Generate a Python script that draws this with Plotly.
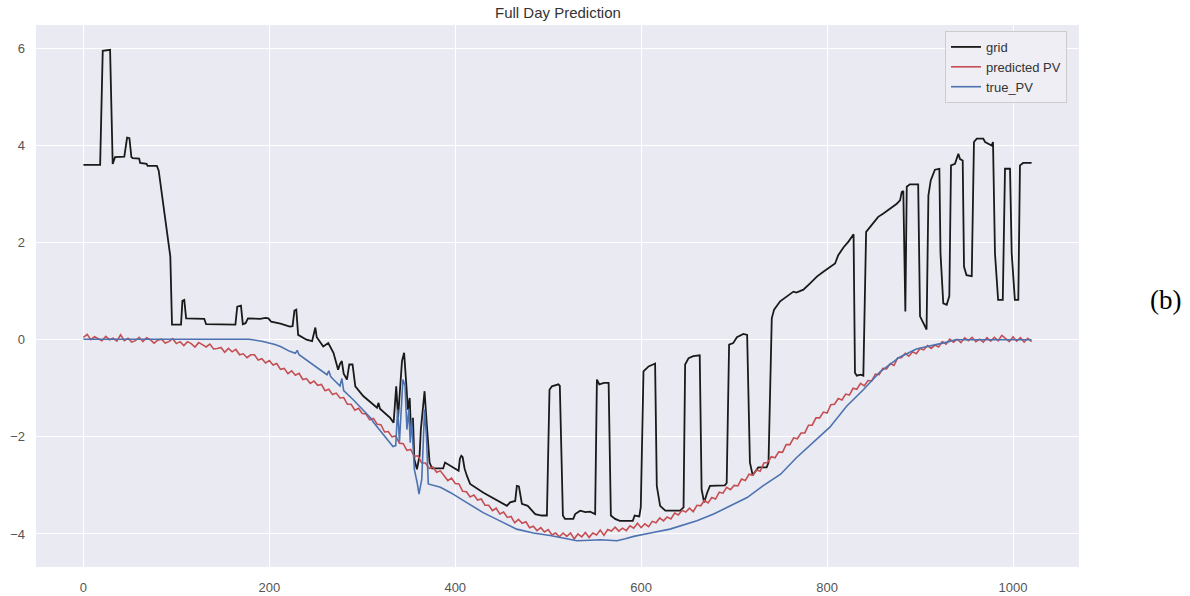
import plotly.graph_objects as go

# ---- grid power (breakpoints of the step-like trace) ----
grid_x = [0, 18, 20.8, 28.7, 31.5, 34, 44, 46, 47, 49.5, 51.6, 53, 60, 61, 68, 69, 79, 81, 88, 93.5,
          95.3, 105, 106.5, 108.5, 110.5, 130, 132, 163.5, 165.5, 169.5, 171.5, 174.5, 177, 190, 196,
          199, 202, 212, 222, 225, 227, 229, 231, 240, 246, 248.5, 249.5, 251, 253, 258, 263.4, 269,
          274, 276, 278, 280, 283.5, 286, 289.5, 292.5, 301, 315.8, 317.5, 319, 330, 333.7, 336.5,
          338.5, 342.7, 345, 347.5, 349, 351, 352.3, 354.5, 356, 358.8, 361.6, 363, 367, 369.5, 372.4,
          375, 387, 389, 403.6, 405, 406.5, 408, 410, 412.5, 416, 430.4, 448, 455.6, 459, 464.5, 466.3,
          468.5, 471.7, 478, 486, 493, 498.6, 501.4, 504, 511, 512.5, 515.8, 518, 527, 529, 534.4, 540,
          545, 550.5, 552.4, 555, 560, 565, 567.4, 572, 577, 591, 593, 598, 599.6, 602.5, 608, 615,
          616.8, 620.4, 626, 642, 645.6, 647.3, 651, 656, 663, 665, 667.7, 671, 674, 690, 692, 694.6,
          699, 703, 710, 714, 717, 720, 726, 735, 737, 740.5, 743, 749.5, 756.6, 763.8, 767, 774.5,
          781.7, 789, 796, 803, 808.6, 812, 817.6, 823, 827.6, 828.5, 830, 832, 836, 839, 842, 846, 855,
          860.6, 867.7, 875, 878.5, 880.3, 882, 884.2, 885.7, 889, 898, 900, 903.6, 907, 909, 911.5,
          916, 920.8, 922, 925, 928.7, 931.5, 933.3, 937.6, 941.2, 943, 945.9, 947.3, 950, 955.6, 958,
          961, 968, 970, 977, 978.5, 980.6, 984, 989, 991.4, 996.8, 998.6, 1002, 1005.7, 1007.5, 1011,
          1020]
grid_y = [3.60, 3.60, 5.95, 5.97, 3.62, 3.76, 3.77, 4.10, 4.16, 4.15, 3.76, 3.74, 3.73, 3.64, 3.62,
          3.58, 3.58, 3.48, 2.53, 1.71, 0.31, 0.31, 0.80, 0.82, 0.44, 0.43, 0.32, 0.31, 0.68, 0.70,
          0.32, 0.34, 0.44, 0.43, 0.45, 0.44, 0.37, 0.33, 0.27, 0.28, 0.60, 0.62, 0.10, 0.00, -0.03,
          0.20, 0.25, 0.05, 0.00, -0.14, -0.07, -0.27, -0.62, -0.50, -0.44, -0.70, -0.82, -0.51, -0.51,
          -0.96, -1.16, -1.40, -1.30, -1.42, -1.61, -1.71, -0.96, -1.60, -0.44, -0.27, -0.96, -1.44,
          -1.20, -1.85, -1.61, -2.46, -2.67, -2.39, -1.85, -1.06, -1.78, -2.53, -2.65, -2.65, -2.53,
          -2.70, -2.45, -2.39, -2.42, -2.65, -2.80, -2.97, -3.15, -3.35, -3.42, -3.35, -3.32, -3.01,
          -3.02, -3.38, -3.42, -3.59, -3.62, -3.62, -1.03, -0.96, -0.92, -0.95, -3.62, -3.69, -3.69,
          -3.59, -3.52, -3.55, -3.54, -3.59, -0.82, -0.92, -0.89, -0.89, -3.62, -3.69, -3.73, -3.73,
          -3.62, -3.64, -3.45, -0.65, -0.55, -0.49, -3.01, -3.42, -3.52, -3.52, -3.45, -0.51, -0.38,
          -0.34, -0.32, -3.08, -3.35, -3.15, -3.01, -3.00, -2.95, -0.10, -0.07, 0.05, 0.12, 0.10,
          -2.53, -2.79, -2.63, -2.63, -2.53, 0.44, 0.62, 0.79, 0.89, 0.99, 0.97, 1.03, 1.16, 1.30,
          1.40, 1.50, 1.57, 1.74, 1.90, 2.02, 2.14, 2.17, -0.68, -0.74, -0.72, -0.74, 2.22, 2.32, 2.53,
          2.60, 2.70, 2.80, 2.87, 3.04, 3.06, 0.58, 3.15, 3.20, 3.20, 0.48, 0.34, 0.21, 2.97, 3.28,
          3.50, 3.52, 1.78, 0.75, 0.72, 0.90, 3.59, 3.62, 3.83, 3.72, 3.69, 1.50, 1.33, 1.31, 4.07,
          4.14, 4.14, 4.07, 4.00, 4.07, 1.78, 0.82, 0.82, 3.52, 3.52, 1.78, 0.82, 0.82, 3.59, 3.64,
          3.64]

# ---- predicted PV (sampled every 4 steps) ----
pred_x = list(range(0, 1021, 4))
pred_y = [0.05, 0.11, 0.00, 0.06, 0.02, -0.02, 0.07, 0.00, 0.03, -0.03,
          0.10, -0.02, 0.03, -0.05, -0.02, 0.05, -0.04, 0.04, 0.00, -0.07,
          -0.01, 0.01, -0.07, -0.04, 0.02, -0.08, -0.04, -0.12, -0.04, -0.08,
          -0.15, -0.06, -0.10, -0.15, -0.09, -0.19, -0.18, -0.16, -0.26, -0.18,
          -0.25, -0.20, -0.31, -0.29, -0.37, -0.31, -0.31, -0.42, -0.39, -0.48,
          -0.43, -0.52, -0.49, -0.61, -0.59, -0.70, -0.64, -0.73, -0.69, -0.82,
          -0.80, -0.90, -0.85, -0.94, -0.92, -1.05, -1.02, -1.13, -1.10, -1.20,
          -1.19, -1.33, -1.33, -1.45, -1.41, -1.52, -1.53, -1.65, -1.62, -1.74,
          -1.75, -1.90, -1.89, -2.00, -1.98, -2.13, -2.14, -2.28, -2.26, -2.40,
          -2.39, -2.54, -2.54, -2.65, -2.62, -2.73, -2.70, -2.81, -2.90, -2.85,
          -2.96, -2.97, -3.12, -3.13, -3.24, -3.20, -3.30, -3.28, -3.41, -3.41,
          -3.52, -3.47, -3.59, -3.55, -3.66, -3.64, -3.77, -3.70, -3.78, -3.75,
          -3.87, -3.84, -3.93, -3.87, -3.96, -3.91, -4.02, -3.98, -4.06, -3.98,
          -4.05, -3.98, -4.10, -4.00, -4.06, -3.97, -4.07, -3.98, -4.02, -3.92,
          -4.03, -3.91, -3.94, -3.86, -3.94, -3.88, -3.93, -3.83, -3.88, -3.78,
          -3.87, -3.79, -3.85, -3.74, -3.77, -3.67, -3.73, -3.65, -3.69, -3.57,
          -3.61, -3.51, -3.55, -3.47, -3.54, -3.41, -3.42, -3.31, -3.36, -3.25,
          -3.28, -3.14, -3.16, -3.04, -3.09, -3.00, -3.01, -2.87, -2.90, -2.77,
          -2.79, -2.68, -2.71, -2.54, -2.53, -2.41, -2.43, -2.31, -2.32, -2.16,
          -2.16, -2.02, -2.04, -1.92, -1.92, -1.76, -1.76, -1.61, -1.61, -1.49,
          -1.51, -1.34, -1.33, -1.21, -1.24, -1.12, -1.14, -1.00, -1.02, -0.90,
          -0.95, -0.84, -0.85, -0.71, -0.72, -0.59, -0.60, -0.49, -0.53, -0.37,
          -0.37, -0.28, -0.34, -0.25, -0.29, -0.18, -0.21, -0.12, -0.18, -0.11,
          -0.15, -0.04, -0.09, 0.01, -0.05, 0.01, -0.06, 0.04, -0.02, 0.05,
          -0.04, 0.01, -0.05, 0.04, -0.03, 0.05, -0.02, 0.09, 0.02, -0.04,
          0.06, -0.03, 0.04, -0.05, 0.03, -0.04]

# ---- true PV ----
true_x = [0, 50, 100, 150, 178, 192, 201, 206, 212, 222, 228, 230, 232, 244, 255, 262, 264, 266,
          269, 276, 278, 280, 290, 301, 309, 312, 323, 330, 333, 336, 338, 340, 343.7, 346, 348, 350,
          351.6, 353, 356, 359, 361, 364, 367, 369, 371, 384, 395, 412, 430, 448, 466, 484, 502, 520,
          531, 545, 556, 565, 574, 583, 592, 610, 631, 660, 678, 696, 714, 731, 750, 767, 785, 803,
          821, 839, 857, 878, 896, 914, 929, 938, 980, 1020]
true_y = [0.01, 0.01, 0.01, 0.01, 0.01, -0.03, -0.07, -0.10, -0.14, -0.24, -0.28, -0.22, -0.31,
          -0.47, -0.62, -0.72, -0.64, -0.76, -0.82, -0.95, -0.80, -1.05, -1.23, -1.45, -1.61, -1.70,
          -1.95, -2.12, -2.20, -2.18, -1.44, -2.10, -0.82, -0.95, -1.85, -1.44, -2.12, -1.64, -2.67,
          -2.94, -3.18, -2.87, -1.44, -2.00, -2.97, -3.04, -3.15, -3.35, -3.56, -3.73, -3.90, -3.98,
          -4.03, -4.10, -4.14, -4.13, -4.12, -4.13, -4.14, -4.10, -4.05, -3.98, -3.90, -3.73, -3.59,
          -3.42, -3.25, -3.01, -2.77, -2.43, -2.12, -1.80, -1.37, -1.03, -0.66, -0.36, -0.19, -0.12,
          -0.05, 0.0, 0.0, 0.0]

x_ticks = [0, 200, 400, 600, 800, 1000]
y_ticks = [-4, -2, 0, 2, 4, 6]

fig = go.Figure()
fig.add_trace(go.Scatter(x=grid_x, y=grid_y, mode="lines", name="grid",
                         line=dict(color="#1a1a1a", width=1.8)))
fig.add_trace(go.Scatter(x=pred_x, y=pred_y, mode="lines", name="predicted PV",
                         line=dict(color="#C44E52", width=1.6)))
fig.add_trace(go.Scatter(x=true_x, y=true_y, mode="lines", name="true_PV",
                         line=dict(color="#4C72B0", width=1.6)))

sans = "Liberation Sans, Arial, sans-serif"
axis_font = dict(family=sans, size=13, color="#555555")
fig.update_layout(
    width=1190, height=596,
    margin=dict(l=36, r=111, t=25, b=29),
    paper_bgcolor="white",
    plot_bgcolor="#EAEAF2",
    showlegend=True,
    legend=dict(x=0.8715, y=0.989, xanchor="left", yanchor="top",
                bgcolor="rgba(238,238,244,0.9)", bordercolor="#cccccc", borderwidth=1,
                font=dict(family=sans, size=13, color="#333333"),
                itemwidth=30, tracegroupgap=0),
    xaxis=dict(range=[-51, 1071], tickvals=x_ticks, showgrid=True, gridcolor="white",
               gridwidth=1.2, zeroline=False, showline=False, ticks="", tickfont=axis_font,
               ticklabelstandoff=11, automargin=False),
    yaxis=dict(range=[-4.68, 6.48], tickvals=y_ticks, showgrid=True, gridcolor="white",
               gridwidth=1.2, zeroline=False, showline=False, ticks="", tickfont=axis_font,
               ticklabelstandoff=10, automargin=False),
    annotations=[
        dict(text="Full Day Prediction", xref="paper", yref="paper", x=0.5, y=1.0,
             xanchor="center", yanchor="bottom", yshift=2, showarrow=False,
             font=dict(family=sans, size=15, color="#333333")),
        dict(text="(b)", xref="paper", yref="paper", x=1.0825, y=0.4926,
             xanchor="center", yanchor="middle", showarrow=False,
             font=dict(family="Liberation Serif, Times New Roman, serif", size=27, color="black")),
    ],
)

fig.write_html("out.html")
